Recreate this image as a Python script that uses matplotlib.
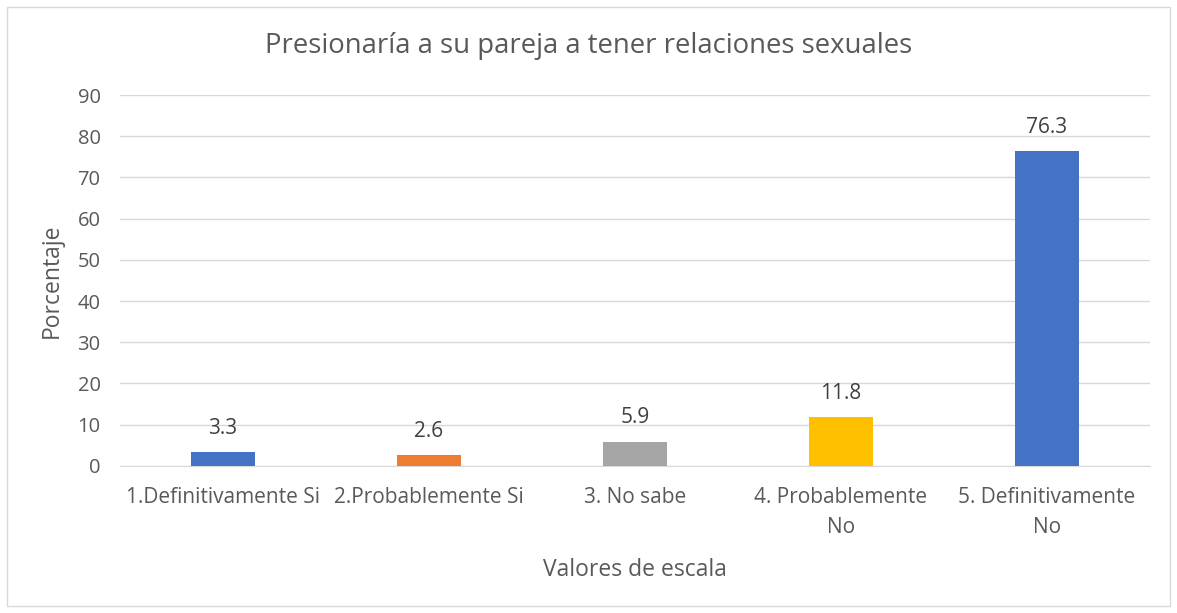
import matplotlib
matplotlib.use("Agg")
import matplotlib.pyplot as plt
from matplotlib.patches import Rectangle

categorias = ['1.Definitivamente Si', '2.Probablemente Si', '3. No sabe',
              '4. Probablemente\nNo', '5. Definitivamente\nNo']
valores = [3.3, 2.6, 5.9, 11.8, 76.3]
colores = ['#4472C4', '#ED7D31', '#A5A5A5', '#FFC000', '#4472C4']
yticks = list(range(0, 100, 10))

plt.rcParams['font.family'] = ['Open Sans', 'DejaVu Sans']
texto = '#595959'

fig = plt.figure(figsize=(11.77, 6.13), dpi=100)
fig.patches.append(Rectangle((0.006, 0.012), 0.988, 0.976, transform=fig.transFigure,
                             fill=False, edgecolor='#D9D9D9', lw=1))
ax = fig.add_axes([0.102, 0.240, 0.875, 0.605])

x = list(range(len(categorias)))
ax.bar(x, valores, width=0.315, color=colores, zorder=3)
for xi, v in zip(x, valores):
    ax.text(xi, v + 3.2, f'{v}', ha='center', va='bottom', fontsize=15, color='#404040')

ax.set_xlim(-0.5, 4.5)
ax.set_ylim(0, 90)
ax.set_yticks(yticks)
ax.set_xticks(x)
ax.set_xticklabels(categorias, fontsize=15, color=texto, linespacing=1.6)
ax.tick_params(axis='y', labelsize=14.5, labelcolor=texto, length=0, pad=14)
ax.tick_params(axis='x', length=0, pad=15)
ax.grid(axis='y', color='#D9D9D9', lw=1, zorder=0)
for s in ['top', 'right', 'left']:
    ax.spines[s].set_visible(False)
ax.spines['bottom'].set_color('#D9D9D9')

ax.set_ylabel('Porcentaje', fontsize=16.5, color=texto, labelpad=10)
ax.set_xlabel('Valores de escala', fontsize=16.5, color=texto, labelpad=14)
fig.text(0.50, 0.925, 'Presionaría a su pareja a tener relaciones sexuales',
         ha='center', va='center', fontsize=19.8, color=texto)

fig.savefig('out.png', dpi=100)
